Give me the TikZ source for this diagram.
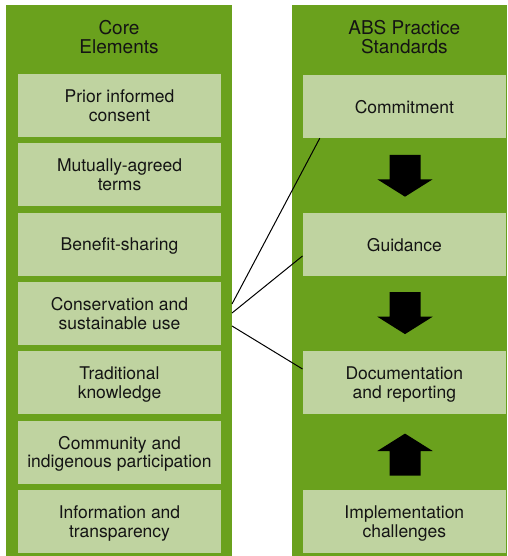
\documentclass[tikz,border=0pt]{standalone}
\usepackage{fontspec}
\setmainfont{TeX Gyre Heros}
\usetikzlibrary{calc}
\definecolor{darkgreen}{RGB}{106,161,29}
\definecolor{lightgreen}{RGB}{191,211,160}
\definecolor{txt}{RGB}{20,20,20}
\tikzset{
  column/.style={fill=darkgreen, draw=none},
  elembox/.style={fill=lightgreen, draw=none, inner sep=0pt, minimum width=203pt, minimum height=63pt,
    align=center, text=txt, text depth=0pt, font=\fontsize{17.5}{18.9}\selectfont},
  header/.style={inner sep=0pt, align=center, text=txt, font=\fontsize{19}{18.7}\selectfont},
  link/.style={draw=black, line width=1pt},
  blockarrow/.pic={\fill[black] (-15.5,-24.5) -- (15.5,-24.5) -- (15.5,0) -- (27.7,0) -- (0,17.4) -- (-27.7,0) -- (-15.5,0) -- cycle;}
}
\begin{document}
\begin{tikzpicture}[x=1pt,y=-1pt]
\useasboundingbox (0,0) rectangle (507,556);
% columns
\fill[column] (6,5) rectangle (232,556);
\fill[column] (292,5) rectangle (507,556);
\coordinate (colLtop) at (232,5);
% headers
\node[header] (hL) at (119,36.9) {Core\\Elements};
\node[header] (hR) at (404.3,36.9) {ABS Practice\\Standards};
% left boxes
\node[elembox] (pic) at (119.5,105.5) {Prior informed\\consent};
\node[elembox] (mat) at (119.5,174.8) {Mutually-agreed\\terms};
\node[elembox] (ben) at (119.5,244.1) {Benefit-sharing};
\node[elembox] (cons) at (119.5,313.4) {Conservation and\\sustainable use};
\node[elembox] (trad) at (119.5,382.7) {Traditional\\knowledge};
\node[elembox] (comm) at (119.5,452) {Community and\\indigenous participation};
\node[elembox] (info) at (119.5,521.3) {Information and\\transparency};
% right boxes
\node[elembox, minimum width=203.3pt] (commit) at (404.35,106.5) {Commitment};
\node[elembox, minimum width=203.3pt] (guid) at (404.35,244.5) {Guidance};
\node[elembox, minimum width=203.3pt] (doc) at (404.35,382.5) {Documentation\\and reporting};
\node[elembox, minimum width=203.3pt] (impl) at (404.35,521.2) {Implementation\\challenges};
% block arrows
\pic at (405,179.3) {blockarrow};
\pic at (405,316.7) {blockarrow};
\pic[rotate=180] at (405,451) {blockarrow};
% connectors
\coordinate (s1) at ($(cons.center -| colLtop)+(0,-9.4)$);
\coordinate (s2) at ($(cons.center -| colLtop)+(0,-0.4)$);
\coordinate (s3) at ($(cons.center -| colLtop)+(0,12.6)$);
\coordinate (e1) at ($(commit.south west)+(17.3,0)$);
\coordinate (e2) at ($(guid.west)+(0,11.5)$);
\coordinate (e3) at ($(doc.west)+(0,-13.5)$);
\draw[link] (s1) -- (e1);
\draw[link] (s2) -- (e2);
\draw[link] (s3) -- (e3);
\end{tikzpicture}
\end{document}
